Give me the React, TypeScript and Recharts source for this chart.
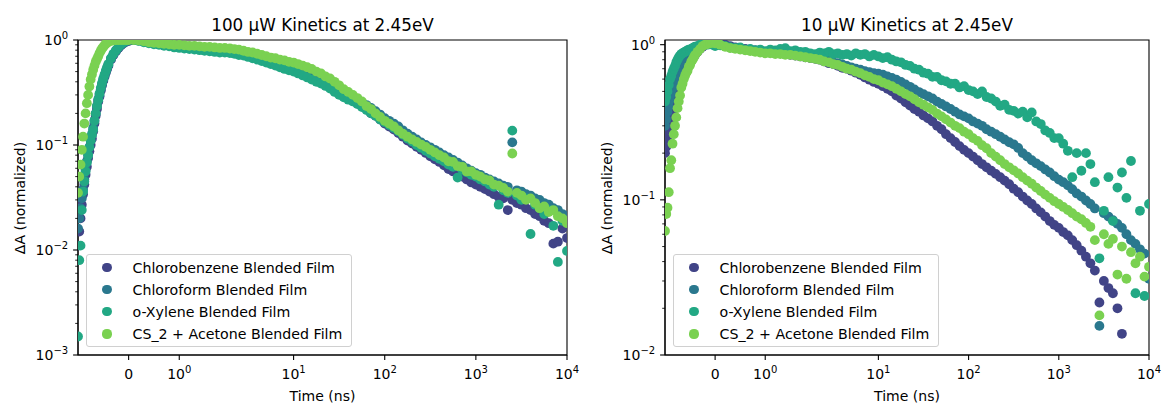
import React from "react";
import { ScatterChart, Scatter, XAxis, YAxis, ReferenceArea } from "recharts";

const FONT = "'DejaVu Sans', sans-serif";
const SERIES_NAMES = [
  "Chlorobenzene Blended Film",
  "Chloroform Blended Film",
  "o-Xylene Blended Film",
  "CS_2 + Acetone Blended Film",
];
const COLORS = ["#414487", "#2a788e", "#22a884", "#7ad151"];

// delay times (ns), shared by every trace
const TIMES = [
  -1, -0.975, -0.95, -0.925, -0.9, -0.875, -0.85, -0.825, -0.8, -0.775, -0.75, -0.725, -0.7, -0.675, -0.65, -0.625, -0.6, -0.575, -0.55, -0.525, -0.5, -0.475, -0.45, -0.425, -0.4,
  -0.35, -0.3, -0.25, -0.2, -0.15, -0.1, -0.05, 0,
  0.1, 0.2, 0.3, 0.4, 0.5, 0.6, 0.7, 0.8, 0.9, 1,
  1.1, 1.2, 1.3, 1.4, 1.5, 1.6, 1.7, 1.8, 1.9, 2,
  2.24, 2.51, 2.82, 3.16, 3.55, 3.98, 4.47, 5.01, 5.62, 6.31, 7.08, 7.94, 8.91,
  10, 11.2, 12.6, 14.1, 15.8, 17.8, 20, 22.4, 25.1, 28.2, 31.6, 35.5, 39.8, 44.7, 50.1, 56.2, 63.1, 70.8, 79.4, 89.1,
  100, 112, 126, 141, 158, 178, 200, 224, 251, 282, 316, 355, 398, 447, 501, 562, 631, 708, 794, 891,
  1000, 1120, 1260, 1410, 1580, 1780, 2000, 2240, 2510, 2820, 3160, 3550, 3980, 4470, 5010, 5620, 6310, 7080, 7940, 8910, 10000,
];

// 100 uW traces
const CB_100 = [
  0.011, 0.015, 0.02, 0.027, 0.034, 0.042, 0.052, 0.062, 0.075, 0.087, 0.1, 0.115, 0.135, 0.16, 0.19, 0.22, 0.26, 0.29, 0.33, 0.37, 0.41, 0.45, 0.49, 0.53, 0.57,
  0.65, 0.72, 0.78, 0.84, 0.89, 0.93, 0.96, 0.98,
  1, 0.99, 0.97, 0.95, 0.93, 0.92, 0.9, 0.89, 0.88, 0.87,
  0.86, 0.85, 0.84, 0.83, 0.82, 0.81, 0.81, 0.8, 0.79, 0.78,
  0.77, 0.75, 0.74, 0.72, 0.7, 0.68, 0.66, 0.64, 0.62, 0.6, 0.58, 0.56, 0.545,
  0.53, 0.51, 0.49, 0.47, 0.45, 0.43, 0.405, 0.385, 0.36, 0.34, 0.32, 0.3, 0.28, 0.27, 0.255, 0.235, 0.22, 0.2, 0.19, 0.175,
  0.16, 0.15, 0.14, 0.13, 0.12, 0.11, 0.103, 0.096, 0.09, 0.084, 0.078, 0.073, 0.069, 0.064, 0.059, 0.056, 0.052, 0.05, 0.047, 0.044,
  0.042, 0.04, 0.038, 0.036, 0.034, 0.032, 0.031, 0.024, 0.03, 0.028, 0.027, 0.025, 0.024, 0.022, 0.021, 0.019, 0.018, 0.0115, 0.012, 0.016, 0.013,
];
const CF_100 = [
  0.016, 0.02, 0.025, 0.031, 0.038, 0.047, 0.058, 0.07, 0.082, 0.095, 0.11, 0.125, 0.145, 0.17, 0.2, 0.235, 0.27, 0.3, 0.34, 0.38, 0.42, 0.46, 0.5, 0.54, 0.58,
  0.66, 0.73, 0.79, 0.85, 0.9, 0.94, 0.97, 0.99,
  1, 0.99, 0.97, 0.95, 0.93, 0.92, 0.91, 0.9, 0.89, 0.88,
  0.87, 0.86, 0.85, 0.84, 0.84, 0.83, 0.82, 0.81, 0.81, 0.8,
  0.79, 0.77, 0.75, 0.73, 0.72, 0.7, 0.68, 0.66, 0.64, 0.62, 0.6, 0.58, 0.565,
  0.55, 0.53, 0.51, 0.49, 0.47, 0.45, 0.425, 0.405, 0.385, 0.36, 0.34, 0.32, 0.3, 0.29, 0.275, 0.255, 0.24, 0.225, 0.21, 0.195,
  0.18, 0.17, 0.16, 0.15, 0.138, 0.128, 0.12, 0.113, 0.106, 0.1, 0.095, 0.09, 0.085, 0.08, 0.076, 0.072, 0.068, 0.064, 0.06, 0.057,
  0.054, 0.052, 0.049, 0.047, 0.045, 0.043, 0.041, 0.04, 0.106, 0.037, 0.036, 0.034, 0.033, 0.031, 0.03, 0.028, 0.027, 0.025, 0.024, 0.022, 0.021,
];
const OX_100 = [
  0.0015, 0.008, 0.011, 0.024, 0.036, 0.045, 0.056, 0.068, 0.08, 0.095, 0.11, 0.125, 0.14, 0.17, 0.2, 0.235, 0.27, 0.31, 0.35, 0.39, 0.43, 0.47, 0.51, 0.55, 0.59,
  0.67, 0.74, 0.8, 0.86, 0.91, 0.95, 0.98, 1,
  1, 0.98, 0.95, 0.93, 0.91, 0.9, 0.88, 0.87, 0.85, 0.84,
  0.83, 0.82, 0.81, 0.8, 0.79, 0.78, 0.77, 0.76, 0.76, 0.75,
  0.74, 0.72, 0.71, 0.69, 0.67, 0.65, 0.63, 0.61, 0.59, 0.57, 0.55, 0.53, 0.515,
  0.5, 0.48, 0.46, 0.44, 0.42, 0.4, 0.385, 0.365, 0.345, 0.32, 0.3, 0.285, 0.27, 0.26, 0.245, 0.23, 0.215, 0.2, 0.19, 0.175,
  0.165, 0.155, 0.145, 0.135, 0.125, 0.115, 0.108, 0.1, 0.094, 0.088, 0.083, 0.078, 0.074, 0.07, 0.065, 0.062, 0.049, 0.058, 0.055, 0.052,
  0.05, 0.047, 0.045, 0.042, 0.04, 0.027, 0.037, 0.035, 0.137, 0.033, 0.03, 0.031, 0.0142, 0.027, 0.025, 0.022, 0.024, 0.017, 0.0077, 0.019, 0.0098,
];
const CS_100 = [
  0.035, 0.05, 0.065, 0.09, 0.12, 0.16, 0.2, 0.25, 0.3, 0.36, 0.42, 0.47, 0.52, 0.57, 0.62, 0.66, 0.7, 0.75, 0.79, 0.83, 0.86, 0.89, 0.92, 0.94, 0.96,
  0.98, 0.99, 1, 1, 1, 1, 1, 1,
  1, 0.99, 0.97, 0.95, 0.94, 0.93, 0.92, 0.91, 0.9, 0.9,
  0.89, 0.88, 0.88, 0.87, 0.86, 0.86, 0.85, 0.84, 0.84, 0.83,
  0.82, 0.81, 0.79, 0.77, 0.76, 0.74, 0.72, 0.7, 0.68, 0.67, 0.65, 0.64, 0.62,
  0.61, 0.59, 0.57, 0.55, 0.53, 0.5, 0.48, 0.45, 0.43, 0.4, 0.37, 0.34, 0.32, 0.3, 0.28, 0.26, 0.235, 0.22, 0.2, 0.185,
  0.17, 0.16, 0.15, 0.138, 0.128, 0.12, 0.113, 0.107, 0.101, 0.096, 0.09, 0.085, 0.08, 0.076, 0.07, 0.069, 0.063, 0.062, 0.056, 0.056,
  0.052, 0.05, 0.047, 0.046, 0.042, 0.041, 0.039, 0.036, 0.083, 0.035, 0.033, 0.03, 0.031, 0.028, 0.025, 0.026, 0.023, 0.024, 0.021, 0.02, 0.018,
];

// 10 uW traces
const CB_10 = [
  0.2, 0.22, 0.25, 0.27, 0.3, 0.33, 0.36, 0.39, 0.42, 0.45, 0.48, 0.51, 0.54, 0.57, 0.6, 0.63, 0.66, 0.69, 0.71, 0.74, 0.76, 0.79, 0.81, 0.84, 0.86,
  0.9, 0.94, 0.97, 1, 1.02, 1.04, 1.05, 1.04,
  1.02, 1, 0.98, 0.96, 0.95, 0.94, 0.93, 0.92, 0.91, 0.9,
  0.9, 0.89, 0.88, 0.87, 0.86, 0.85, 0.84, 0.83, 0.82, 0.81,
  0.8, 0.78, 0.76, 0.75, 0.73, 0.71, 0.7, 0.68, 0.66, 0.64, 0.615, 0.595, 0.575,
  0.56, 0.54, 0.52, 0.5, 0.47, 0.45, 0.425, 0.405, 0.385, 0.37, 0.35, 0.335, 0.32, 0.3, 0.285, 0.265, 0.25, 0.236, 0.222, 0.21,
  0.2, 0.19, 0.18, 0.17, 0.162, 0.154, 0.147, 0.14, 0.133, 0.126, 0.118, 0.112, 0.105, 0.099, 0.094, 0.088, 0.083, 0.078, 0.073, 0.069,
  0.066, 0.062, 0.059, 0.055, 0.051, 0.047, 0.043, 0.039, 0.035, 0.0218, 0.03, 0.027, 0.025, 0.02, 0.0137, null, null, null, null, null, null,
];
const CF_10 = [
  0.3, 0.33, 0.37, 0.4, 0.44, 0.48, 0.52, 0.56, 0.6, 0.63, 0.66, 0.69, 0.72, 0.75, 0.77, 0.8, 0.82, 0.84, 0.86, 0.88, 0.9, 0.92, 0.93, 0.94, 0.95,
  0.97, 0.99, 1, 1.01, 1.02, 1.02, 1.01, 1,
  1, 0.98, 0.96, 0.95, 0.94, 0.93, 0.92, 0.92, 0.91, 0.9,
  0.9, 0.89, 0.88, 0.88, 0.87, 0.86, 0.85, 0.84, 0.84, 0.83,
  0.82, 0.8, 0.79, 0.77, 0.76, 0.745, 0.73, 0.715, 0.7, 0.69, 0.675, 0.665, 0.655,
  0.65, 0.64, 0.625, 0.61, 0.595, 0.575, 0.555, 0.535, 0.515, 0.495, 0.48, 0.465, 0.45, 0.43, 0.415, 0.4, 0.385, 0.37, 0.355, 0.345,
  0.335, 0.32, 0.31, 0.3, 0.285, 0.275, 0.265, 0.255, 0.245, 0.235, 0.228, 0.216, 0.2, 0.19, 0.18, 0.172, 0.165, 0.157, 0.15, 0.142,
  0.135, 0.13, 0.124, 0.117, 0.11, 0.105, 0.099, 0.094, 0.088, 0.0154, 0.082, 0.078, 0.074, 0.07, 0.066, 0.06, 0.055, 0.052, 0.048, 0.045, 0.031,
];
const OX_10 = [
  0.43, 0.46, 0.5, 0.55, 0.6, 0.63, 0.67, 0.7, 0.73, 0.77, 0.8, 0.83, 0.85, 0.87, 0.88, 0.89, 0.9, 0.91, 0.92, 0.93, 0.93, 0.94, 0.95, 0.96, 0.97,
  0.98, 1, 1.01, 1.02, 1, 1.02, 1, 0.98,
  0.99, 0.98, 0.96, 0.95, 0.96, 0.93, 0.94, 0.92, 0.93, 0.91,
  0.93, 0.92, 0.94, 0.95, 0.91, 0.92, 0.9, 0.9, 0.88, 0.87,
  0.89, 0.88, 0.9, 0.87, 0.88, 0.86, 0.87, 0.85, 0.88, 0.86, 0.87, 0.84, 0.86,
  0.84, 0.82, 0.83, 0.8, 0.78, 0.77, 0.74, 0.73, 0.7, 0.69, 0.66, 0.65, 0.62, 0.62, 0.59, 0.58, 0.56, 0.56, 0.53, 0.54,
  0.51, 0.5, 0.48, 0.5, 0.46, 0.45, 0.43, 0.404, 0.41, 0.38, 0.375, 0.36, 0.37, 0.34, 0.366, 0.32, 0.308, 0.28, 0.27, 0.25,
  0.25, 0.23, 0.207, 0.14, 0.2, 0.154, 0.2, 0.17, 0.13, 0.042, 0.085, 0.14, 0.073, 0.12, 0.15, 0.103, 0.178, 0.025, 0.085, 0.024, 0.094,
];
const CS_10 = [
  0.063, 0.081, 0.089, 0.112, 0.16, 0.18, 0.23, 0.265, 0.3, 0.34, 0.39, 0.43, 0.47, 0.53, 0.56, 0.6, 0.63, 0.66, 0.68, 0.72, 0.74, 0.78, 0.8, 0.83, 0.86,
  0.9, 0.94, 0.98, 1, 1.01, 1.02, 1.03, 1.02,
  1, 0.97, 0.95, 0.94, 0.93, 0.92, 0.91, 0.9, 0.89, 0.88,
  0.88, 0.87, 0.87, 0.86, 0.86, 0.85, 0.84, 0.83, 0.82, 0.81,
  0.8, 0.78, 0.77, 0.75, 0.74, 0.72, 0.7, 0.69, 0.67, 0.655, 0.635, 0.62, 0.6,
  0.59, 0.57, 0.555, 0.54, 0.52, 0.5, 0.48, 0.465, 0.445, 0.425, 0.41, 0.395, 0.38, 0.36, 0.345, 0.33, 0.315, 0.3, 0.29, 0.275,
  0.265, 0.25, 0.24, 0.225, 0.215, 0.2, 0.19, 0.18, 0.17, 0.162, 0.155, 0.148, 0.14, 0.133, 0.127, 0.12, 0.114, 0.108, 0.103, 0.098,
  0.094, 0.09, 0.086, 0.082, 0.078, 0.075, 0.071, 0.067, 0.055, 0.018, 0.06, 0.052, 0.056, 0.033, 0.05, 0.031, 0.046, 0.039, 0.043, 0.032, 0.037,
];

const X_TICK_TIMES = [0, 1, 10, 100, 1000, 10000];
const X_MIN = -1;
const X_MAX = 10000;

// matplotlib-style symlog, linthresh 2, linscale 1 (in decade units)
const LINTHRESH = 2;
const LINSCALE = 1 / (1 - 1 / 10);
function symlog(t: number) {
  const a = Math.abs(t);
  if (a <= LINTHRESH) return (t / LINTHRESH) * LINSCALE;
  return Math.sign(t) * (LINSCALE + Math.log10(a / LINTHRESH));
}

function toPoints(vals: (number | null)[]) {
  return TIMES.map((t, i) => ({ x: symlog(t), y: vals[i] })).filter(
    (d) => d.y != null && (d.y as number) > 0
  );
}

function logTicks(lo: number, hi: number) {
  const out: number[] = [];
  for (let e = lo; e <= hi; e++) {
    const base = Math.pow(10, e);
    out.push(base);
    if (e < hi) for (let m = 2; m <= 9; m++) out.push(m * base);
  }
  return out;
}

function sup(e: number) {
  return e < 0 ? `\u2212${-e}` : `${e}`;
}

function YTick(props: any) {
  const { x, y, payload } = props;
  const lg = Math.log10(payload.value);
  const e = Math.round(lg);
  const major = Math.abs(lg - e) < 1e-6;
  const ax = x + 10;
  return (
    <g>
      <line x1={ax - (major ? 4.9 : 2.8)} x2={ax} y1={y} y2={y} stroke="#000" strokeWidth={major ? 1.1 : 0.85} />
      {major && (
        <text x={ax - 9.8} y={y + 5} textAnchor="end" fontSize={14} fontFamily={FONT} fill="#000">
          <tspan>10</tspan>
          <tspan dy={-6} fontSize={10}>{sup(e)}</tspan>
        </text>
      )}
    </g>
  );
}

function XTick(props: any) {
  const { x, y, payload } = props;
  const ay = y - 10;
  const t = X_TICK_TIMES.find((tt) => Math.abs(symlog(tt) - payload.value) < 1e-6) ?? 0;
  return (
    <g>
      <line x1={x} x2={x} y1={ay} y2={ay + 4.9} stroke="#000" strokeWidth={1.1} />
      <text x={x} y={ay + 24} textAnchor="middle" fontSize={14} fontFamily={FONT} fill="#000">
        {t === 0 ? (
          "0"
        ) : (
          <>
            <tspan>10</tspan>
            <tspan dy={-6} fontSize={10}>{sup(Math.round(Math.log10(t)))}</tspan>
          </>
        )}
      </text>
    </g>
  );
}

function Dot(props: any) {
  if (props.cx == null || props.cy == null) return null;
  return <circle cx={props.cx} cy={props.cy} r={4.9} fill={props.fill} />;
}

type PanelProps = {
  left: number;
  width: number;
  axisWidth: number;
  title: string;
  series: (number | null)[][];
  yLo: number;
  yHi: number;
  yTop: number;
};

function KineticsPanel({ left, width, axisWidth, title, series, yLo, yHi, yTop }: PanelProps) {
  const marginRight = 15;
  const plotLeft = axisWidth;
  const plotRight = width - marginRight;
  const plotMid = (plotLeft + plotRight) / 2;
  const xDomain = [symlog(X_MIN), symlog(X_MAX)];
  const yDomain = [Math.pow(10, yLo), yTop];
  const bad = series.filter((s) => s.length !== TIMES.length).map((s) => s.length);

  return (
    <div style={{ position: "absolute", left, top: 0, width, height: 406, fontFamily: FONT, color: "#000" }}>
      <ScatterChart width={width} height={406} margin={{ top: 40, right: marginRight, bottom: 0, left: 0 }}>
        <XAxis
          type="number"
          dataKey="x"
          domain={xDomain}
          allowDataOverflow
          ticks={X_TICK_TIMES.map(symlog)}
          interval={0}
          tick={(p: any) => <XTick {...p} />}
          tickLine={false}
          tickSize={5}
          tickMargin={5}
          height={51}
          axisLine={{ stroke: "#000", strokeWidth: 1.1 }}
        />
        <YAxis
          type="number"
          dataKey="y"
          scale="log"
          domain={yDomain}
          allowDataOverflow
          ticks={logTicks(yLo, yHi)}
          interval={0}
          tick={(p: any) => <YTick {...p} />}
          tickLine={false}
          tickSize={5}
          tickMargin={5}
          width={axisWidth}
          axisLine={{ stroke: "#000", strokeWidth: 1.1 }}
        />
        {series.map((vals, i) => (
          <Scatter
            key={SERIES_NAMES[i]}
            name={SERIES_NAMES[i]}
            data={toPoints(vals)}
            fill={COLORS[i]}
            shape={(p: any) => <Dot {...p} fill={COLORS[i]} />}
            isAnimationActive={false}
          />
        ))}
        <ReferenceArea
          x1={xDomain[0]}
          x2={xDomain[1]}
          y1={yDomain[0]}
          y2={yDomain[1]}
          fill="none"
          stroke="#000"
          strokeWidth={1.1}
          ifOverflow="visible"
        />
      </ScatterChart>

      <div
        style={{
          position: "absolute",
          left: plotMid,
          top: 15,
          transform: "translateX(-50%)",
          fontSize: 16.8,
          lineHeight: "20px",
          whiteSpace: "nowrap",
        }}
      >
        {title}
      </div>
      <div
        style={{
          position: "absolute",
          left: plotMid,
          top: 388,
          transform: "translateX(-50%)",
          fontSize: 14,
          lineHeight: "16px",
          whiteSpace: "nowrap",
        }}
      >
        Time (ns)
      </div>
      <div
        style={{
          position: "absolute",
          left: plotLeft - 58,
          top: 197.5,
          transform: "translate(-50%, -50%) rotate(-90deg)",
          fontSize: 14,
          lineHeight: "16px",
          whiteSpace: "nowrap",
        }}
      >
        ΔA (normalized)
      </div>

      <div
        style={{
          position: "absolute",
          left: plotLeft + 8,
          top: 254,
          width: 266,
          height: 93,
          boxSizing: "border-box",
          border: "1px solid #d0d0d0",
          borderRadius: 3,
          background: "rgba(255,255,255,0.8)",
        }}
      >
        {SERIES_NAMES.map((name, i) => (
          <div
            key={name}
            style={{ position: "absolute", left: 0, top: 12.5 + i * 22.2 - 9, height: 18, width: "100%" }}
          >
            <span
              style={{
                position: "absolute",
                left: 20 - 4.6,
                top: 9 - 4.6,
                width: 9.2,
                height: 9.2,
                borderRadius: "50%",
                background: COLORS[i],
              }}
            />
            <span
              style={{
                position: "absolute",
                left: 45.5,
                top: 0,
                fontSize: 14.2,
                lineHeight: "18px",
                whiteSpace: "nowrap",
              }}
            >
              {name}
            </span>
          </div>
        ))}
      </div>
      {bad.length > 0 && (
        <div style={{ position: "absolute", left: 200, top: 100, color: "red" }}>
          length mismatch: {TIMES.length} vs {bad.join(",")}
        </div>
      )}
    </div>
  );
}

export default function App() {
  return (
    <div style={{ position: "absolute", left: 0, top: 0, width: 1164, height: 406, background: "#fff" }}>
      <KineticsPanel
        left={0}
        width={582}
        axisWidth={78}
        title="100 μW Kinetics at 2.45eV"
        series={[CB_100, CF_100, OX_100, CS_100]}
        yLo={-3}
        yHi={0}
        yTop={1}
      />
      <KineticsPanel
        left={580}
        width={584}
        axisWidth={85}
        title="10 μW Kinetics at 2.45eV"
        series={[CB_10, CF_10, OX_10, CS_10]}
        yLo={-2}
        yHi={0}
        yTop={1.072}
      />
    </div>
  );
}
